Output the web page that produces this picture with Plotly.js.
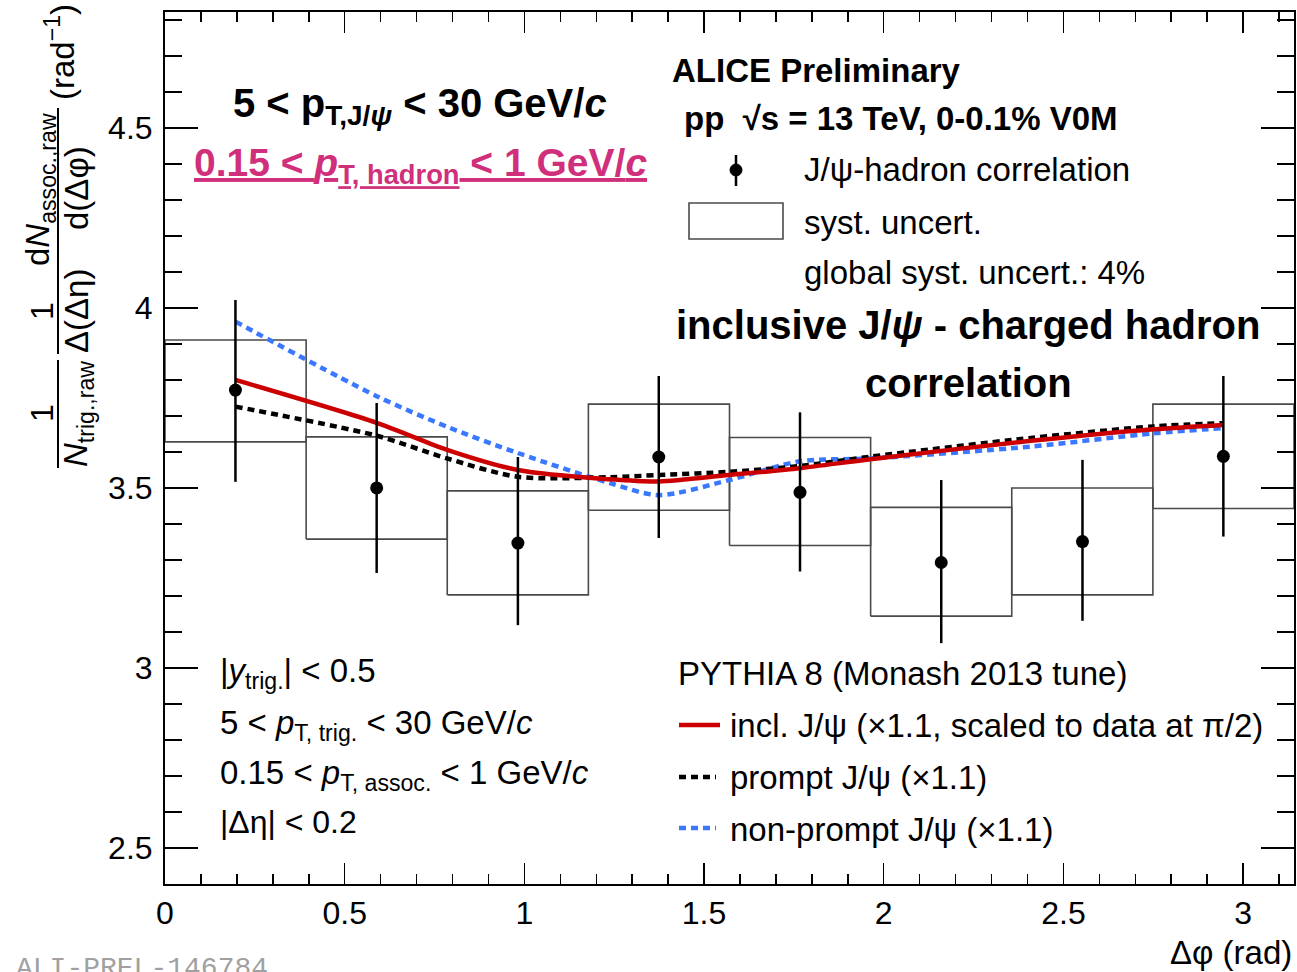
<!DOCTYPE html>
<html><head><meta charset="utf-8">
<script src="https://cdn.plot.ly/plotly-3.0.1.min.js"></script>
<style>html,body{margin:0;padding:0;background:#fff;} #chart{width:1297px;height:972px;}</style>
</head><body><div id="chart"></div>
<script>
// ---- data ----
const dphi      = [0.196, 0.589, 0.982, 1.374, 1.767, 2.160, 2.553, 2.945];
const corr      = [3.772, 3.500, 3.347, 3.586, 3.488, 3.293, 3.351, 3.588];
const statUp    = [0.250, 0.236, 0.239, 0.225, 0.222, 0.229, 0.227, 0.223];
const statDown  = [0.255, 0.236, 0.228, 0.225, 0.220, 0.224, 0.220, 0.223];
const binLow    = [0.0000, 0.3927, 0.7854, 1.1781, 1.5708, 1.9635, 2.3562, 2.7489];
const binHigh   = [0.3927, 0.7854, 1.1781, 1.5708, 1.9635, 2.3562, 2.7489, 3.1416];
const systLow   = [3.628, 3.358, 3.203, 3.438, 3.340, 3.144, 3.203, 3.443];
const systHigh  = [3.911, 3.642, 3.492, 3.733, 3.640, 3.446, 3.500, 3.733];
const pyX         = [0.196, 0.589, 0.785, 0.982, 1.240, 1.374, 1.570, 1.767, 1.963, 2.410, 2.752, 2.945];
const pyIncl      = [3.800, 3.681, 3.606, 3.550, 3.524, 3.518, 3.536, 3.555, 3.580, 3.631, 3.663, 3.675];
const pyPrompt    = [3.726, 3.645, 3.582, 3.531, 3.530, 3.536, 3.545, 3.561, 3.587, 3.639, 3.671, 3.680];
const pyNonPrompt = [3.962, 3.755, 3.670, 3.597, 3.513, 3.480, 3.522, 3.574, 3.582, 3.615, 3.652, 3.666];
const xRange = [0, Math.PI];
const yRange = [2.4, 4.822];

// ---- syst boxes path built from the arrays ----
const boxX = [], boxY = [];
for (let i = 0; i < binLow.length; i++) {
  boxX.push(binLow[i], binHigh[i], binHigh[i], binLow[i], binLow[i], null);
  boxY.push(systLow[i], systLow[i], systHigh[i], systHigh[i], systLow[i], null);
}

const FONT = 'Liberation Sans, Arial, Helvetica, sans-serif';
const dotDash = '7px,5px';

const traces = [
  {x: boxX, y: boxY, mode: 'lines', line: {color: '#4a4a4a', width: 1.6}, hoverinfo: 'skip', showlegend: false},
  {x: pyX, y: pyNonPrompt, mode: 'lines', line: {color: '#3a78ff', width: 4.5, dash: dotDash, shape: 'spline', smoothing: 0.8}, showlegend: false},
  {x: pyX, y: pyPrompt, mode: 'lines', line: {color: '#000', width: 4.5, dash: dotDash, shape: 'spline', smoothing: 0.8}, showlegend: false},
  {x: pyX, y: pyIncl, mode: 'lines', line: {color: '#cc0000', width: 4.5, shape: 'spline', smoothing: 0.8}, showlegend: false},
  {x: dphi, y: corr, mode: 'markers', marker: {color: '#000', size: 13, symbol: 'circle'},
   error_y: {type: 'data', symmetric: false, array: statUp, arrayminus: statDown, color: '#000', thickness: 2.5, width: 0},
   showlegend: false}
];

// pixel -> paper helpers (plot area 165..1294 x 12..884)
const L = 165, R = 1294, T = 12, B = 884;
const px = x => (x - L) / (R - L);
const py = y => (B - y) / (B - T);

function ann(text, x, y, o = {}) {
  return Object.assign({
    text: text, xref: 'paper', yref: 'paper', x: px(x), y: py(y),
    xanchor: o.xa || 'left', yanchor: o.ya || 'middle', showarrow: false,
    font: Object.assign({family: FONT, size: o.size || 33, color: o.color || '#000'}, o.font || {}),
    textangle: o.angle || 0
  }, o.extra || {});
}

const annotations = [
  // y-axis title (stacked fractions)
  ann('1', 42, 413, {xa: 'center', angle: -90, size: 32}),
  ann('<i>N</i><sub>trig.,raw</sub>', 78, 414, {xa: 'center', angle: -90, size: 33}),
  ann('1', 42, 311, {xa: 'center', angle: -90, size: 32}),
  ann('Δ(Δη)', 76, 311, {xa: 'center', angle: -90, size: 33}),
  ann('d<i>N</i><sub>assoc.,raw</sub>', 40, 190, {xa: 'center', angle: -90, size: 33}),
  ann('d(Δφ)', 76, 188, {xa: 'center', angle: -90, size: 33}),
  ann('(rad<sup>−1</sup>)', 60, 52, {xa: 'center', angle: -90, size: 33}),
  // x-axis title
  ann('Δφ (rad)', 1294, 952, {xa: 'right', size: 33}),
  // top-left
  ann('<b>5 < p<sub>T,J/<i>ψ</i></sub> < 30 GeV/<i>c</i></b>', 420, 106, {xa: 'center', size: 40}),
  ann('<b>0.15 < <i>p</i><sub>T, hadron</sub> < 1 GeV/<i>c</i></b>', 420, 165, {xa: 'center', size: 39, color: '#d02f7c', font: {lineposition: 'under'}}),
  // top-right
  ann('<b>ALICE Preliminary</b>', 670, 70, {size: 33}),
  ann('<b>pp  √s = 13 TeV, 0-0.1% V0M</b>', 682, 118, {size: 33}),
  ann('J/ψ-hadron correlation', 802, 170, {size: 33}),
  ann('syst. uncert.', 802, 222, {size: 33}),
  ann('global syst. uncert.: 4%', 802, 273, {size: 33}),
  ann('<b>inclusive J/<i>ψ</i> - charged hadron</b>', 968, 325, {xa: 'center', size: 40}),
  ann('<b>correlation</b>', 968, 383, {xa: 'center', size: 40}),
  // bottom-left cuts
  ann('|<i>y</i><sub>trig.</sub>| < 0.5', 218, 673, {size: 33}),
  ann('5 < <i>p</i><sub>T, trig.</sub> < 30 GeV/<i>c</i>', 218, 725, {size: 33}),
  ann('0.15 < <i>p</i><sub>T, assoc.</sub> < 1 GeV/<i>c</i>', 218, 775, {size: 33}),
  ann('|Δη| < 0.2', 218, 822, {size: 32}),
  // PYTHIA legend
  ann('PYTHIA 8 (Monash 2013 tune)', 676, 673, {size: 33}),
  ann('incl. J/ψ (×1.1, scaled to data at π/2)', 728, 725, {size: 33}),
  ann('prompt J/ψ (×1.1)', 728, 777, {size: 33}),
  ann('non-prompt J/ψ (×1.1)', 728, 829, {size: 33}),
  // watermark id
  ann('ALI-PREL-146784', 14, 968, {size: 28, color: '#a0a0a0', font: {family: 'Liberation Mono, DejaVu Sans Mono, monospace'}})
];

function pline(x0, y0, x1, y1, color, width, dash) {
  return {type: 'line', xref: 'paper', yref: 'paper', x0: px(x0), y0: py(y0), x1: px(x1), y1: py(y1),
          line: {color: color, width: width, dash: dash || 'solid'}};
}
const shapes = [
  // fraction bars of the y title
  pline(58, 360, 58, 468, '#000', 2),
  pline(58, 268, 58, 354, '#000', 2),
  pline(58, 108, 58, 268, '#000', 2),
  // data legend glyphs
  pline(736, 155, 736, 186, '#000', 2.5),
  {type: 'circle', xref: 'paper', yref: 'paper', x0: px(730), x1: px(742), y0: py(164), y1: py(176), fillcolor: '#000', line: {color: '#000', width: 1}},
  {type: 'rect', xref: 'paper', yref: 'paper', x0: px(689), x1: px(783), y0: py(203), y1: py(239), line: {color: '#4a4a4a', width: 1.6}},
  // PYTHIA legend glyphs
  pline(679, 725, 720, 725, '#cc0000', 4.5),
  pline(679, 777, 716, 777, '#000', 4.5, dotDash),
  pline(679, 828, 716, 828, '#3a78ff', 4.5, dotDash)
];

const axisCommon = {
  showgrid: false, zeroline: false, showline: true, linecolor: '#000', linewidth: 2,
  mirror: 'allticks', ticks: 'inside', tickcolor: '#000', tickwidth: 1.5,
  tickfont: {family: FONT, size: 32, color: '#000'}
};

const layout = {
  width: 1297, height: 972,
  margin: {l: L, r: 1297 - R, t: T, b: 972 - B},
  paper_bgcolor: '#fff', plot_bgcolor: '#fff',
  showlegend: false,
  xaxis: Object.assign({}, axisCommon, {range: xRange, tick0: 0, dtick: 0.5, ticklen: 21,
    minor: {dtick: 0.1, ticklen: 10, ticks: 'inside', tickcolor: '#000', tickwidth: 1.5}, ticklabelstandoff: 0}),
  yaxis: Object.assign({}, axisCommon, {range: yRange, tick0: 0, dtick: 0.5, ticklen: 33,
    minor: {dtick: 0.1, ticklen: 17, ticks: 'inside', tickcolor: '#000', tickwidth: 1.5}, ticklabelstandoff: 4}),
  annotations: annotations,
  shapes: shapes
};

Plotly.newPlot('chart', traces, layout, {staticPlot: true});
</script>
</body></html>
